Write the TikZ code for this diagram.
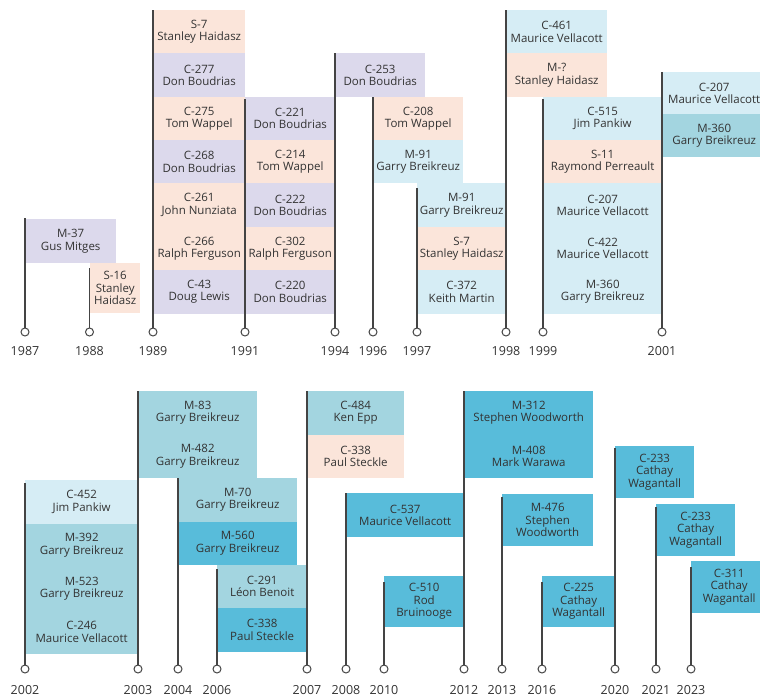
\documentclass[tikz,border=0pt]{standalone}
\usepackage{fontspec}
\setmainfont{Open Sans}
\definecolor{lav}{HTML}{DCD9EC}
\definecolor{pch}{HTML}{FBE5DA}
\definecolor{lbl}{HTML}{D6EDF5}
\definecolor{tea}{HTML}{A3D5E0}
\definecolor{blu}{HTML}{58BCDA}
\definecolor{txt}{HTML}{333333}
\definecolor{polec}{HTML}{444444}
\newcommand{\bx}[7]{\node[entry, fill=#6, minimum width=#4, minimum height=#5] (#1) at (#2,#3) {#7};}
\newcommand{\pl}[4]{%
  \node[dot] (c#1) at (#2,#4) {};
  \coordinate (t#1) at (#2,#3);
  \draw[pole] (c#1) -- (t#1);}
\begin{document}
\begin{tikzpicture}[x=1pt,y=-1pt,
  entry/.style={inner sep=0pt, anchor=north west, align=center, text=txt,
    font=\fontsize{11.5}{12.5}\selectfont},
  dot/.style={circle, draw=polec, fill=white, line width=1pt, minimum size=8pt, inner sep=0pt},
  pole/.style={draw=polec, line width=1.3pt},
  year/.style={text=txt, font=\fontsize{12.5}{14}\selectfont, inner sep=0pt}]
\useasboundingbox (0,0) rectangle (760,695);
% ---- top row
\bx{a1}{25}{219}{91}{44}{lav}{M-37\\Gus Mitges}
\bx{b1}{90}{263}{50}{50}{pch}{S-16\\Stanley\\Haidasz}
\bx{c1}{153}{10}{92}{43.3}{pch}{S-7\\Stanley Haidasz}
\bx{c2}{153}{53.3}{92}{43.3}{lav}{C-277\\Don Boudrias}
\bx{c3}{153}{96.6}{92}{43.4}{pch}{C-275\\Tom Wappel}
\bx{c4}{153}{140}{92}{43.3}{lav}{C-268\\Don Boudrias}
\bx{c5}{153}{183.3}{92}{43.3}{pch}{C-261\\John Nunziata}
\bx{c6}{153}{226.6}{92}{43.4}{pch}{C-266\\Ralph Ferguson}
\bx{c7}{153}{270}{92}{43.3}{lav}{C-43\\Doug Lewis}
\bx{d1}{245}{96.6}{90}{43.4}{lav}{C-221\\Don Boudrias}
\bx{d2}{245}{140}{90}{43.3}{pch}{C-214\\Tom Wappel}
\bx{d3}{245}{183.3}{90}{43.3}{lav}{C-222\\Don Boudrias}
\bx{d4}{245}{226.6}{90}{43.4}{pch}{C-302\\Ralph Ferguson}
\bx{d5}{245}{270}{90}{43.3}{lav}{C-220\\Don Boudrias}
\bx{e1}{335}{53.3}{90}{43.3}{lav}{C-253\\Don Boudrias}
\bx{f1}{373}{96.6}{90}{43.4}{pch}{C-208\\Tom Wappel}
\bx{f2}{373}{140}{90}{43.3}{lbl}{M-91\\Garry Breikreuz}
\bx{g1}{417}{183.3}{89}{43.3}{lbl}{M-91\\Garry Breikreuz}
\bx{g2}{417}{226.6}{89}{43.4}{pch}{S-7\\Stanley Haidasz}
\bx{g3}{417}{270}{89}{43.3}{lbl}{C-372\\Keith Martin}
\bx{h1}{506}{10}{101}{43.3}{lbl}{C-461\\Maurice Vellacott}
\bx{h2}{506}{53.3}{101}{43.3}{pch}{M-?\\Stanley Haidasz}
\bx{i1}{543}{96.6}{119}{43.4}{lbl}{C-515\\Jim Pankiw}
\bx{i2}{543}{140}{119}{43.3}{pch}{S-11\\Raymond Perreault}
\bx{i3}{543}{183.3}{119}{43.3}{lbl}{C-207\\Maurice Vellacott}
\bx{i4}{543}{226.6}{119}{43.4}{lbl}{C-422\\Maurice Vellacott}
\bx{i5}{543}{270}{119}{43.3}{lbl}{M-360\\Garry Breikreuz}
\bx{j1}{662}{72}{104}{42}{lbl}{C-207\\Maurice Vellacott}
\bx{j2}{662}{114}{104}{43}{tea}{M-360\\Garry Breikreuz}
% ---- bottom row
\bx{k1}{25}{480}{113}{43.3}{lbl}{C-452\\Jim Pankiw}
\bx{k2}{25}{523.3}{113}{43.3}{tea}{M-392\\Garry Breikreuz}
\bx{k3}{25}{566.6}{113}{43.4}{tea}{M-523\\Garry Breikreuz}
\bx{k4}{25}{610}{113}{43.3}{tea}{C-246\\Maurice Vellacott}
\bx{l1}{138}{391}{119}{43.3}{tea}{M-83\\Garry Breikreuz}
\bx{l2}{138}{434.3}{119}{43.7}{tea}{M-482\\Garry Breikreuz}
\bx{m1}{178}{478}{119}{43.3}{tea}{M-70\\Garry Breikreuz}
\bx{m2}{178}{521.3}{119}{43.3}{blu}{M-560\\Garry Breikreuz}
\bx{n1}{217}{564.6}{90}{43.4}{tea}{C-291\\Léon Benoit}
\bx{n2}{217}{608}{90}{43.3}{blu}{C-338\\Paul Steckle}
\bx{o1}{307}{391}{97}{43.3}{tea}{C-484\\Ken Epp}
\bx{o2}{307}{434.3}{97}{43.7}{pch}{C-338\\Paul Steckle}
\bx{p1}{346}{493}{118}{44}{blu}{C-537\\Maurice Vellacott}
\bx{q1}{384}{576}{80}{51}{blu}{C-510\\Rod\\Bruinooge}
\bx{r1}{464}{391}{129}{43.3}{blu}{M-312\\Stephen Woodworth}
\bx{r2}{464}{434.3}{129}{43.7}{blu}{M-408\\Mark Warawa}
\bx{s1}{502}{494}{91}{52}{blu}{M-476\\Stephen\\Woodworth}
\bx{u1}{542}{576}{73}{51}{blu}{C-225\\Cathay\\Wagantall}
\bx{v1}{615}{446}{79}{52}{blu}{C-233\\Cathay\\Wagantall}
\bx{w1}{656}{504}{79}{52}{blu}{C-233\\Cathay\\Wagantall}
\bx{x1}{691}{561}{76}{52}{blu}{C-311\\Cathay\\Wagantall}
% ---- poles top row
\pl{87}{25}{218}{332}
\pl{88}{89.5}{268}{332}
\pl{89}{153}{10}{332}
\pl{91}{245}{99}{332}
\pl{94}{335}{53}{332}
\pl{96}{373}{97}{332}
\pl{97}{417}{188}{332}
\pl{98}{506}{10}{332}
\pl{99}{543}{99}{332}
\pl{01}{662}{72}{332}
% ---- poles bottom row
\pl{02}{25}{483}{669}
\pl{03}{138}{391}{669}
\pl{04}{178}{478}{669}
\pl{06}{217}{569}{669}
\pl{07}{307}{391}{669}
\pl{08}{346}{493}{669}
\pl{10}{384}{582}{669}
\pl{12}{464}{391}{669}
\pl{13}{502}{497}{669}
\pl{16}{542}{582}{669}
\pl{20}{615}{448}{669}
\pl{21}{656}{507}{669}
\pl{23}{691}{567}{669}
% ---- year labels
\node[year] (y87) at (25,351) {1987};
\node[year] (y88) at (89.5,351) {1988};
\node[year] (y89) at (153,351) {1989};
\node[year] (y91) at (245,351) {1991};
\node[year] (y94) at (335,351) {1994};
\node[year] (y96) at (373,351) {1996};
\node[year] (y97) at (417,351) {1997};
\node[year] (y98) at (506,351) {1998};
\node[year] (y99) at (543,351) {1999};
\node[year] (y01) at (662,351) {2001};
\node[year] (y02) at (25,690) {2002};
\node[year] (y03) at (138,690) {2003};
\node[year] (y04) at (178,690) {2004};
\node[year] (y06) at (217,690) {2006};
\node[year] (y07) at (307,690) {2007};
\node[year] (y08) at (346,690) {2008};
\node[year] (y10) at (384,690) {2010};
\node[year] (y12) at (464,690) {2012};
\node[year] (y13) at (502,690) {2013};
\node[year] (y16) at (542,690) {2016};
\node[year] (y20) at (615,690) {2020};
\node[year] (y21) at (656,690) {2021};
\node[year] (y23) at (691,690) {2023};
\end{tikzpicture}
\end{document}
